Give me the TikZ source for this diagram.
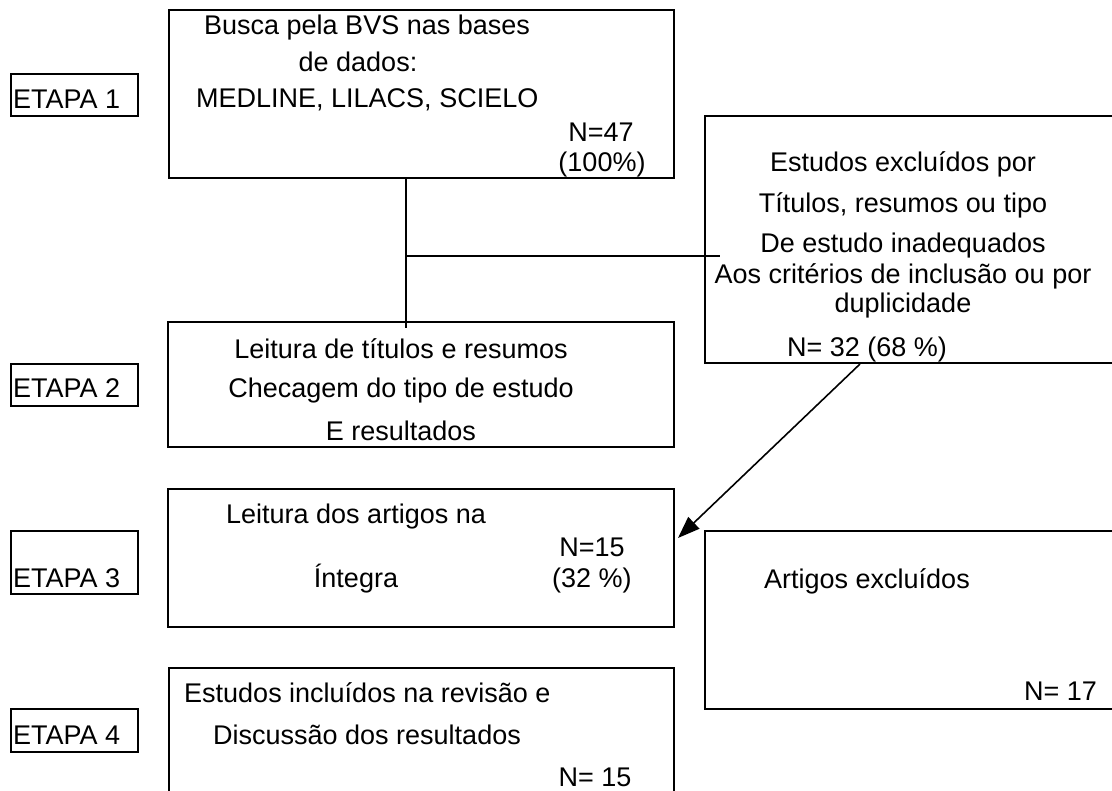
\documentclass[tikz,border=0pt]{standalone}
\usepackage{fontspec}
\setmainfont{Liberation Sans}
\usetikzlibrary{arrows.meta}

\tikzset{
  stagebox/.style={draw, line width=2.6pt, inner sep=0pt},
  txt/.style={font=\fontsize{27}{32}\selectfont, inner sep=0pt, anchor=base},
  link/.style={line width=1.6pt},
}

\begin{document}
\begin{tikzpicture}[x=1pt,y=-1pt]
  \clip (0,0) rectangle (1112,791);
  % etapas
  \foreach \n/\yc/\h/\yb in {1/95/42/109, 2/385/42/398, 3/562.5/63/587, 4/730.5/43/744} {
    \node[stagebox, minimum width=127pt, minimum height=\h pt] (etapa\n) at (74.5,\yc) {};
    \node[txt, anchor=base west] (lab\n) at (13,\yb) {ETAPA \n};
  }

  % main column
  \node[stagebox, minimum width=505pt, minimum height=168pt] (busca) at (421.5,94) {};
  \node[stagebox, minimum width=506pt, minimum height=125pt] (leitura) at (421,384.5) {};
  \node[stagebox, minimum width=506pt, minimum height=138pt] (artigos) at (421,558) {};
  \node[stagebox, minimum width=505pt, minimum height=132pt] (incluidos) at (421.5,734) {};

  % exclusions
  \node[stagebox, minimum width=420pt, minimum height=247pt] (excl) at (915,239.5) {};
  \node[stagebox, minimum width=420pt, minimum height=178pt] (exclart) at (915,620) {};

  % texts
  \node[txt, anchor=base west] (b1) at (204,35) {Busca pela BVS nas bases};
  \node[txt] (b2) at (358,72) {de dados:};
  \node[txt, anchor=base west] (b3) at (196,108) {MEDLINE, LILACS, SCIELO};
  \node[txt] (b4) at (601,142) {N=47};
  \node[txt] (b5) at (602,172) {(100\%)};

  \foreach \yb/\t [count=\i] in {172/{Estudos excluídos por}, 213/{Títulos, resumos ou tipo},
      253/{De estudo inadequados}, 284/{Aos critérios de inclusão ou por}, 313/{duplicidade}}
    \node[txt] (e\i) at (903,\yb) {\t};
  \node[txt] (e6) at (867,357) {N= 32 (68 \%)};

  \foreach \yb/\t [count=\i] in {359/{Leitura de títulos e resumos},
      398/{Checagem do tipo de estudo}, 441/{E resultados}}
    \node[txt] (l\i) at (401,\yb) {\t};

  \node[txt, anchor=base west] (a1) at (226,524) {Leitura dos artigos na};
  \node[txt] (a2) at (592,556) {N=15};
  \node[txt] (a3) at (356,587) {Íntegra};
  \node[txt] (a4) at (592,587) {(32 \%)};

  \node[txt, anchor=base west] (i1) at (184,702) {Estudos incluídos na revisão e};
  \node[txt, anchor=base west] (i2) at (213,744) {Discussão dos resultados};
  \node[txt] (i3) at (595,786) {N= 15};

  \node[txt, anchor=base west] (x1) at (764,588) {Artigos excluídos};
  \node[txt, anchor=base east] (x2) at (1097,700) {N= 17};

  % connectors
  \coordinate (stem) at (406,328);
  \coordinate (split) at (406,256);
  \coordinate (hook) at (720,256);
  \coordinate (tail) at (860,364);
  \coordinate (head) at (678,538);
  \draw[link] (busca.south -| stem) -- (stem);
  \draw[link] (split) -- (hook);
  \draw[link, -{Triangle[length=22pt,width=16pt]}] (tail) -- (head);
\end{tikzpicture}
\end{document}
